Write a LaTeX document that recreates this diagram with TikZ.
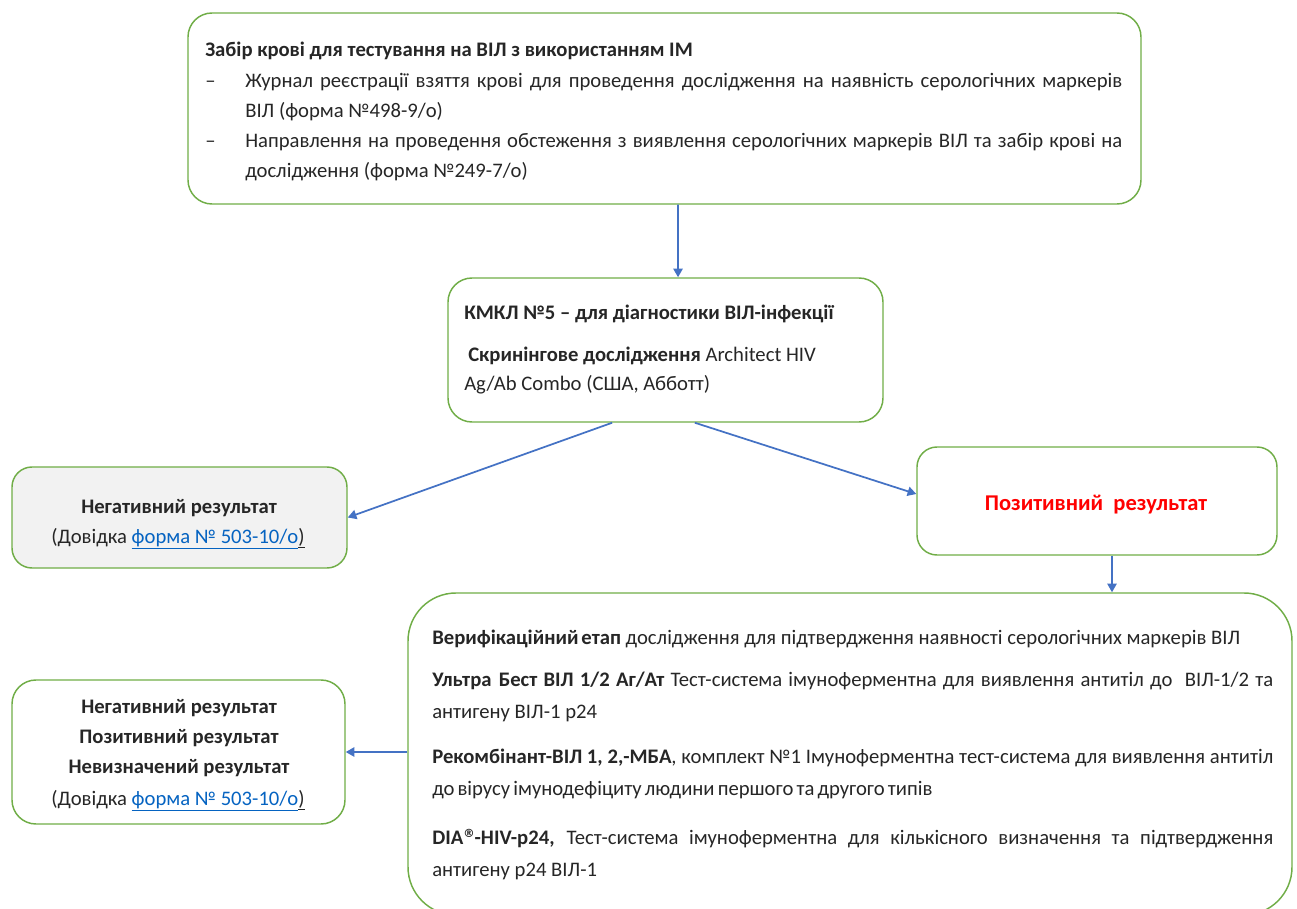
\documentclass[tikz,border=0pt]{standalone}
\usepackage{fontspec}
\setmainfont{Carlito}
\newfontfamily\symfont{DejaVu Sans}
\usetikzlibrary{arrows.meta}
\definecolor{boxgreen}{HTML}{70AD47}
\definecolor{arrowblue}{HTML}{4472C4}
\definecolor{linkblue}{HTML}{0563C1}
\definecolor{negfill}{HTML}{F2F2F2}
\definecolor{posred}{HTML}{FF0000}
\definecolor{txtgray}{HTML}{262626}
\newcommand{\jl}[2]{\makebox[#1][s]{#2}}
\newcommand{\regmark}{\raisebox{0.32em}{\symfont\fontsize{8.5}{9}\selectfont ®}}
\begin{document}
\begin{tikzpicture}[x=0.75pt,y=-0.75pt,
  box/.style={draw=boxgreen, line width=1.1pt, rounded corners=#1, inner sep=0pt},
  arr/.style={draw=arrowblue, line width=1.3pt, -{Triangle[length=6.5pt,width=7pt]}},
  tl/.style={anchor=base west, inner sep=0pt, text=txtgray, font=\fontsize{15.5}{18}\selectfont},
  tc/.style={anchor=base, inner sep=0pt, text=txtgray, font=\fontsize{15.5}{18}\selectfont}]
\useasboundingbox (0,0) rectangle (1297,909);
\clip (0,0) rectangle (1297,909);
% boxes
\node[box=18pt, minimum width=714.75pt, minimum height=143.25pt] (top) at (664.5,108.5) {};
\node[box=18pt, minimum width=326.25pt, minimum height=108pt] (kmkl) at (665.5,350) {};
\node[box=15pt, fill=negfill, minimum width=251.25pt, minimum height=75.75pt] (neg) at (179.5,517.5) {};
\node[box=15pt, minimum width=270pt, minimum height=81pt] (pos) at (1097,501) {};
\node[box=36pt, minimum width=663pt, minimum height=241.5pt] (ver) at (850,754) {};
\node[box=18pt, minimum width=249.75pt, minimum height=108pt] (res) at (178.5,752) {};
% arrows
\draw[arr] ([xshift=10.1pt]top.south) -- ([xshift=9.4pt]kmkl.north);
\draw[arr] ([xshift=-40pt]kmkl.south) -- (neg.east);
\draw[arr] ([xshift=22pt]kmkl.south) -- ([yshift=5.25pt]pos.west);
\draw[arr] ([xshift=11.25pt]pos.south) -- ([xshift=11.25pt]pos.south |- ver.north);
\draw[arr] (res.east -| ver.west) -- (res.east);
% top box text
\node[tl] (t1) at (205,57) {\bfseries Забір крові для тестування на ВІЛ з використанням ІМ};
\node[tl] (td1) at (205,88) {–};
\node[tl] (t2) at (245,88) {\jl{657.75pt}{Журнал реєстрації взяття крові для проведення дослідження на наявність серологічних маркерів}};
\node[tl] (t3) at (245,118) {ВІЛ (форма №498-9/о)};
\node[tl] (td2) at (205,148) {–};
\node[tl] (t4) at (245,148) {\jl{657.75pt}{Направлення на проведення обстеження з виявлення серологічних маркерів ВІЛ та забір крові на}};
\node[tl] (t5) at (245,178) {дослідження (форма №249-7/о)};
% KMKL text
\node[tl] (k1) at (464,320) {\bfseries КМКЛ №5 – для діагностики ВІЛ-інфекції};
\node[tl] (k2) at (468,362) {\textbf{Скринінгове дослідження} Architect HIV};
\node[tl] (k3) at (464,391) {Ag/Ab Combo (США, Абботт)};
% negative
\node[tc] (n1) at (179,513) {\bfseries Негативний результат};
\node[tc] (n2) at (178,543) {(Довідка {\color{linkblue}\underline{форма № 503-10/о}}\underline{)}};
% positive
\node[tc, text=posred, font=\fontsize{16.9}{20}\selectfont\bfseries] (p1) at (1096,510) {Позитивний\ \ результат};
% results
\node[tc] (r1) at (179,713) {\bfseries Негативний результат};
\node[tc] (r2) at (179,743) {\bfseries Позитивний результат};
\node[tc] (r3) at (179,773) {\bfseries Невизначений результат};
\node[tc] (r4) at (178,805) {(Довідка {\color{linkblue}\underline{форма № 503-10/о}}\underline{)}};
% verification text
\node[tl] (v1) at (432,644) {\textbf{Верифікаційний\hspace{0.14em}етап} дослідження для підтвердження наявності серологічних маркерів ВІЛ};
\node[tl] (v2) at (432,686) {\jl{630.75pt}{\textbf{Ультра\hspace{0.35em}Бест ВІЛ 1/2 Аг/Ат} Тест-система імуноферментна для виявлення антитіл до\hspace{0.3em} ВІЛ-1/2 та}};
\node[tl] (v3) at (432,718) {антигену ВІЛ-1 р24};
\node[tl] (v4) at (432,763) {\jl{630.75pt}{\textbf{Рекомбінант-ВІЛ 1, 2,-МБА}, комплект №1 Імуноферментна тест-система для виявлення антитіл}};
\node[tl] (v5) at (432,795) {\spaceskip=0.15em до вірусу імунодефіциту людини першого та другого типів};
\node[tl] (v6) at (432,844) {\jl{630.75pt}{\textbf{DIA\regmark-HIV-p24,} Тест-система імуноферментна для кількісного визначення та підтвердження}};
\node[tl] (v7) at (432,876) {антигену р24 ВІЛ-1};
\end{tikzpicture}
\end{document}
